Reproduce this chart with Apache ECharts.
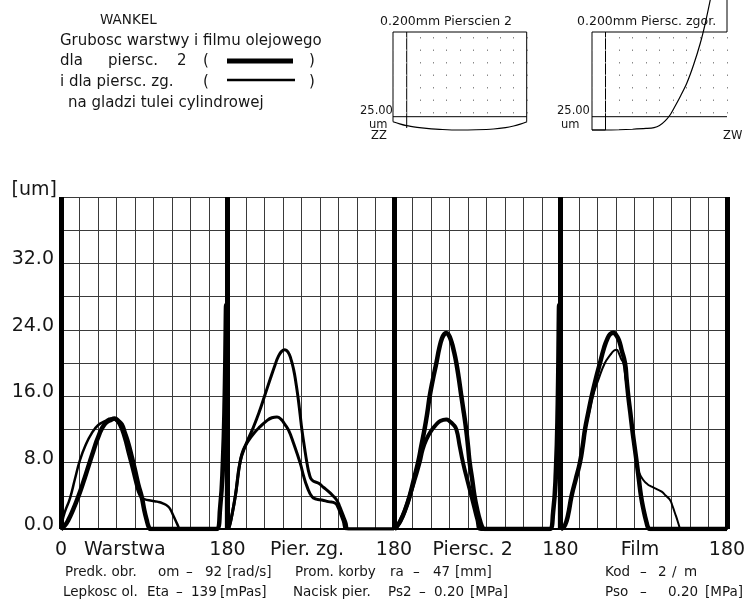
<!DOCTYPE html>
<html>
<head>
<meta charset="utf-8">
<script src="https://cdn.jsdelivr.net/npm/echarts@6/dist/echarts.min.js"></script>
<style>
  html, body { margin: 0; padding: 0; background: #fff; }
  #chart { width: 746px; height: 602px; }
</style>
</head>
<body>
<div id="chart"></div>
<script>
// Oil film thickness [um] vs crank angle, four 180-degree panels
const panelNames = ["Warstwa", "Pier. zg.", "Piersc. 2", "Film"];
const panelLabelAt = [69, 266, 445, 626];

// Panel 1: Warstwa
const warstwaRing2 = [[0,0],[4,0.4],[8,1.1],[13,2.3],[18.7,3.9],[24,5.6],[29.5,7.5],[35,9.4],[40.3,11.1],[47,12.6],[54.8,13.2],[58,13.3],[62,13.0],[65.6,12.6],[69,11.6],[72.8,10.3],[76.5,8.7],[80,7.1],[83.5,5.4],[87.2,3.9],[90,2.3],[92.6,1.1],[95,0.2],[97,0],[168,0],[172,2.5],[175,8],[177,16],[178.5,27],[179.6,0]];
const warstwaZg = [[0,0],[1,0.7],[4,2],[9.7,3.7],[15,6],[20.5,8.3],[27,10.2],[33,11.5],[40,12.5],[47.6,13],[54,13.3],[58,13.2],[63,12.5],[68,11],[72,9.3],[76,7.6],[80,5.8],[83,4.6],[86,3.9],[90,3.6],[98,3.4],[104,3.3],[110,3.1],[116,2.7],[119,2.2],[121.5,1.6],[124,1],[126.8,0.3],[128,0],[168,0]];
// Panel 2: Pier. zg.
const pierZgUpper = [[180.5,0],[182,0.3],[184.5,1.5],[188.5,4],[193.5,8],[200,10.2],[207,12],[214,14],[220,16],[226,18],[231.5,19.8],[235,20.8],[238.5,21.4],[242,21.6],[245.5,21.3],[248.5,20.5],[251.5,19.2],[254,17.6],[256.2,15.9],[258.5,13.8],[260.5,11.9],[263,10],[266,7.9],[268.5,6.6],[271.3,5.9],[278.6,5.5],[284,5],[289.4,4.5],[294,4],[298,3.5],[301,2.8],[303.5,2.1],[305.6,1.5],[308,0.8],[311,0],[360,0]];
const pierZgLower = [[180.5,0],[182,0.3],[185,1.8],[188.5,4],[191,6],[193.5,8],[197,9.5],[203,10.7],[209,11.6],[215,12.3],[222,13],[228,13.4],[233.5,13.5],[238,13.2],[242,12.6],[246,11.9],[251.5,10.3],[258.7,7.9],[262,6.5],[266,5.1],[271.3,3.9],[276,3.6],[282,3.5],[289,3.3],[296.5,3.1],[299.5,2.6],[302,1.9],[305,1],[309,0],[360,0]];
// Panel 3: Piersc. 2
const piersc2Upper = [[360.5,0],[363,0.3],[367,1],[372,2.3],[377,4],[381.5,6],[386,8],[389.5,10],[393,12],[396,14],[398.6,16],[402,18],[405.8,20],[409,21.8],[412,23],[414.5,23.5],[416.5,23.6],[419,23.4],[422,22.6],[425,21.3],[427.4,20],[430,18.2],[432.8,16],[435.5,14],[438,12],[440,10],[441.8,8],[444.5,6],[447,4],[450,2.3],[453,1],[456,0.1],[458,0],[528,0],[532,2],[535,7],[537,15],[538.5,27],[539.6,0]];
const piersc2Lower = [[360.5,0],[363,0.3],[367,1],[372,2.3],[377,4],[382.5,6],[387.7,8],[391,9.6],[395,10.8],[400,11.8],[405,12.5],[410,13],[416.5,13.2],[420,13],[424,12.6],[427.4,12],[431,10],[434.6,8],[439,6],[443.6,4],[447,2.5],[450,1.2],[454,0],[528,0]];
// Panel 4: Film
const filmRing2 = [[540.5,0],[542,0.1],[545,0.5],[548,1.6],[552,4],[556.5,6],[561,8],[564,10],[566.5,12],[570,14],[573.7,16],[578,18],[582.7,20],[587,21.8],[591,23],[594,23.5],[597,23.65],[600,23.4],[603,22.8],[606,21.6],[609.7,20],[611.5,18],[613.3,16],[615.5,14],[617.6,12],[620,10],[622.4,8],[624.7,6],[627,4],[630,2.2],[633,0.8],[635,0.1],[637,0],[720,0]];
const filmZg = [[540.5,0],[545,0.6],[548,1.6],[552,4],[556.5,6],[561,8],[564.5,10],[567,12],[571,14],[575,16],[581,18],[588,20],[594,21],[598,21.5],[600.7,21.6],[603,21.2],[605.5,20.5],[607.9,20],[610.5,18],[613,16],[615.5,14],[617.6,12],[620,10],[622,8],[625,6.8],[629.5,5.9],[634,5.4],[638.6,5.1],[644,4.8],[649.4,4.5],[654,4],[658.4,3.5],[661,2.8],[663.8,1.9],[666.5,1],[669.2,0]];

// Ring face profiles (small charts); 0 = the 25.00 um line
const profileZZ = [[0,-5.9],[5,-8.5],[10,-10.6],[18,-12.5],[25,-13.7],[37,-15.1],[50,-15.7],[62,-15.4],[75,-14.5],[84,-12.9],[90,-11],[95,-8.8],[100,-5.9]];
const profileZW = [[0,-15.7],[10,-15.7],[20,-15.4],[30,-14.8],[40,-13.9],[46,-12.9],[50,-10.5],[54,-5.3],[57.8,2],[61,10.9],[65.3,23.6],[70.2,39.5],[75.2,61],[80.2,86.7],[83.9,110.3],[87.6,137.8]];

// Parameter rows under the chart: [x, text]
const paramRow1 = [[65,"Predk. obr."],[158,"om"],[186,"\u2013"],[205,"92"],[227,"[rad/s]"],[295,"Prom. korby"],[390,"ra"],[413,"\u2013"],[433,"47"],[455,"[mm]"],[605,"Kod"],[640,"\u2013"],[658,"2"],[672,"/"],[684,"m"]];
const paramRow2 = [[63,"Lepkosc ol."],[147,"Eta"],[176,"\u2013"],[191,"139"],[220,"[mPas]"],[293,"Nacisk pier."],[388,"Ps2"],[419,"\u2013"],[434,"0.20"],[470,"[MPa]"],[605,"Pso"],[640,"\u2013"],[668,"0.20"],[705,"[MPa]"]];

const FONT = "DejaVu Sans";
const INK = "#161616";

function curve(data, width) {
  return {
    type: "line", xAxisIndex: 0, yAxisIndex: 0, data: data,
    showSymbol: false, smooth: 0.5,
    lineStyle: { color: "#000", width: width }, z: 5
  };
}

// mini chart n (1 or 2): x axis n+1, y axis n
function profile(data, n) {
  return {
    type: "line", xAxisIndex: n + 1, yAxisIndex: n, data: data,
    showSymbol: false, smooth: 0.3, clip: false,
    lineStyle: { color: "#000", width: 1.2 }
  };
}

function txt(x, y, s, size) {
  return { type: "text", x: x, y: y, style: { text: s, font: size + "px " + FONT, fill: INK, verticalAlign: "middle" } };
}
function ln(x1, y1, x2, y2, w) {
  return { type: "line", shape: { x1: x1, y1: y1, x2: x2, y2: y2 }, style: { stroke: "#000", lineWidth: w || 1 } };
}

const chart = echarts.init(document.getElementById("chart"));

const graphics = [
  // heading and legend
  txt(100, 20, "WANKEL", 13.5),
  txt(60, 41, "Grubosc warstwy i filmu olejowego", 15),
  txt(60, 61, "dla", 15),
  txt(108, 61, "piersc.", 15),
  txt(177, 61, "2", 15),
  txt(203, 61, "(", 15),
  ln(227, 61, 293, 61, 5),
  txt(309, 61, ")", 15),
  txt(60, 82, "i dla piersc. zg.", 15),
  txt(203, 82, "(", 15),
  ln(227, 80, 295, 80, 2.5),
  txt(309, 82, ")", 15),
  txt(68, 103, "na gladzi tulei cylindrowej", 15),
  // small chart: ring 2
  txt(380, 22, "0.200mm Pierscien 2", 12.5),
  ln(393, 32, 393, 121.7), ln(526.7, 32, 526.7, 121.7), ln(393, 32, 526.7, 32),
  ln(393, 116.7, 526.7, 116.7), ln(406.7, 32, 406.7, 128),
  txt(360, 111, "25.00", 11.5), txt(369, 125, "um", 11.5), txt(371, 136, "ZZ", 11.5),
  // small chart: top ring
  txt(577, 22, "0.200mm Piersc. zgor.", 12.5),
  ln(592, 32, 592, 130), ln(592, 32, 727, 32), ln(727, 0, 727, 32),
  ln(592, 116.7, 727, 116.7), ln(605.5, 32, 605.5, 130), ln(592, 130, 605.5, 130),
  txt(557, 111, "25.00", 11.5), txt(561, 125, "um", 11.5), txt(723, 136, "ZW", 11.5)
];
paramRow1.forEach(function (p) { graphics.push(txt(p[0], 572, p[1], 13.5)); });
paramRow2.forEach(function (p) { graphics.push(txt(p[0], 592, p[1], 13.5)); });

const option = {
  animation: false,
  backgroundColor: "#fff",
  grid: [
    { left: 61, right: 19, top: 197, bottom: 73, outerBoundsMode: "none" },
    { left: 393, top: 32, width: 134, height: 84.7, outerBoundsMode: "none" },
    { left: 592, top: 32, width: 135, height: 84.7, outerBoundsMode: "none" }
  ],
  xAxis: [
    {
      type: "value", gridIndex: 0, position: "bottom", min: 0, max: 720, interval: 20,
      axisLine: { show: true, lineStyle: { color: "#000", width: 2 } },
      axisTick: { show: false },
      splitLine: { show: true, lineStyle: { color: "#3a3a3a", width: 1 } },
      axisLabel: {
        customValues: panelLabelAt, margin: 12,
        fontFamily: FONT, fontSize: 19, color: INK,
        formatter: function (v) { return panelNames[panelLabelAt.indexOf(v)] || ""; }
      }
    },
    {
      type: "value", gridIndex: 0, position: "bottom", min: 0, max: 720, interval: 180,
      axisLine: { show: false }, axisTick: { show: false },
      splitLine: { show: true, showMinLine: true, showMaxLine: true, lineStyle: { color: "#000", width: 5 } },
      axisLabel: {
        margin: 12, fontFamily: FONT, fontSize: 19, color: INK,
        formatter: function (v) { return v === 0 ? "0" : "180"; }
      }
    },
    {
      type: "value", gridIndex: 1, min: 0, max: 100, interval: 10,
      axisLine: { show: false }, axisTick: { show: false }, axisLabel: { show: false },
      splitLine: { show: true, lineStyle: { color: "#888", width: 1, type: [1.5, 11], dashOffset: -5 } }
    },
    {
      type: "value", gridIndex: 2, min: 0, max: 100, interval: 10,
      axisLine: { show: false }, axisTick: { show: false }, axisLabel: { show: false },
      splitLine: { show: true, lineStyle: { color: "#888", width: 1, type: [1.5, 11], dashOffset: -5 } }
    }
  ],
  yAxis: [
    {
      type: "value", gridIndex: 0, min: 0, max: 40, interval: 4,
      name: "[um]", nameLocation: "end", nameGap: 7, nameMoveOverlap: false,
      nameTextStyle: { fontFamily: FONT, fontSize: 19, color: INK, align: "right", verticalAlign: "middle", padding: [0, 4, 0, 0] },
      axisLine: { show: false }, axisTick: { show: false },
      splitLine: { show: true, lineStyle: { color: "#3a3a3a", width: 1 } },
      axisLabel: {
        margin: 7, fontFamily: FONT, fontSize: 19, color: INK,
        verticalAlign: "bottom", lineHeight: 8,
        formatter: function (v) { return (v % 8 === 0 && v < 40) ? v.toFixed(1) : ""; }
      }
    },
    { type: "value", gridIndex: 1, min: 0, max: 100, show: false },
    { type: "value", gridIndex: 2, min: 0, max: 100, show: false }
  ],
  series: [
    curve(warstwaZg, 2.5),
    curve(warstwaRing2, 4.5),
    curve(pierZgUpper, 3),
    curve(pierZgLower, 3),
    curve(piersc2Upper, 4.5),
    curve(piersc2Lower, 4),
    curve(filmZg, 2),
    curve(filmRing2, 4.5),
    profile(profileZZ, 1),
    profile(profileZW, 2)
  ],
  graphic: graphics
};

chart.setOption(option);
</script>
</body>
</html>
